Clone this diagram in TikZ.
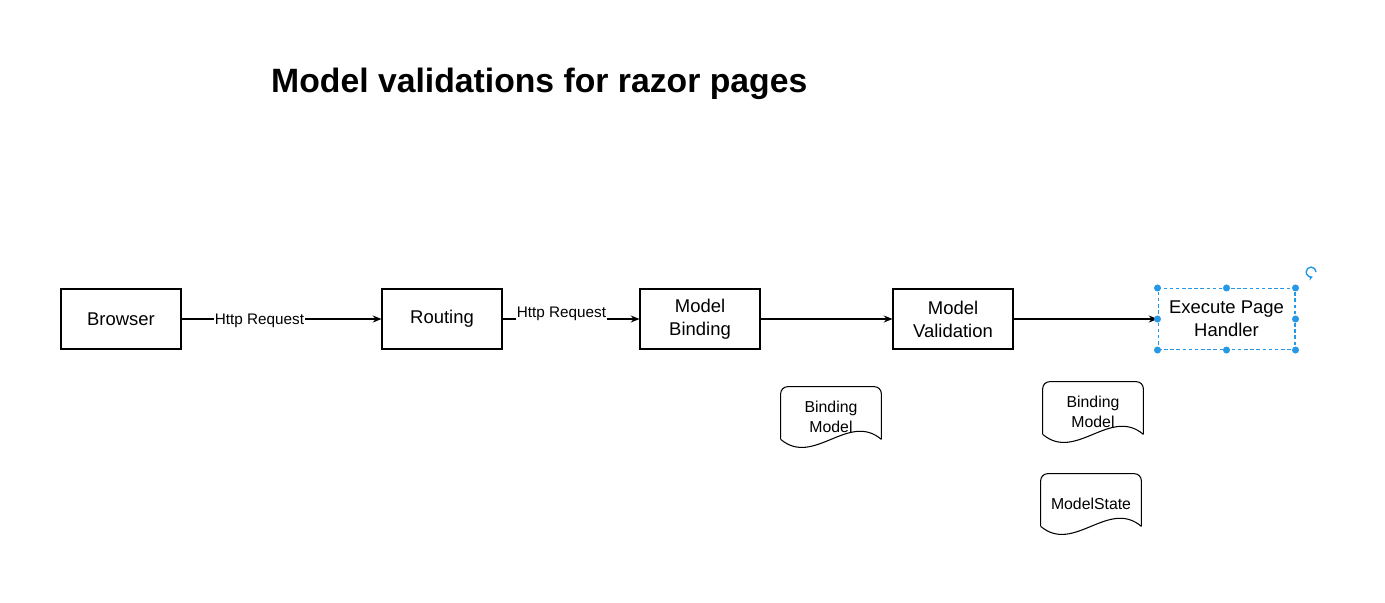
\documentclass[tikz,border=0pt]{standalone}
\usepackage{fontspec}
\setmainfont{Liberation Sans}
\usetikzlibrary{arrows.meta}
\usetikzlibrary{calc}

\definecolor{handleblue}{RGB}{38,152,232}

\tikzset{
  stage/.style={draw=black, line width=0.6pt, minimum width=2.4cm, minimum height=1.2cm, align=center, font=\fontsize{10.5}{13}\selectfont},
  flow/.style={line width=0.6pt, -{Stealth[length=5pt,width=4pt]}},
  flowlabel/.style={fill=white, inner sep=0.5pt, font=\fontsize{8.7}{10}\selectfont},
  docnode/.style={minimum width=2cm, minimum height=1.2cm, inner sep=0pt, align=center, font=\fontsize{9}{11}\selectfont},
  docline/.style={draw=black, line width=0.6pt}
}

\begin{document}
\begin{tikzpicture}[x=0.02cm, y=-0.02cm]

	\useasboundingbox (0,0) rectangle (1385,602);

	%Title
	\node[anchor=west, font=\fontsize{19.2}{23}\selectfont\bfseries] (title) at (265,84) {Model validations for razor pages};

	%Pipeline
	\node[stage] (browser) at (121,319) {Browser};
	\node[stage] (routing) at (442,319) {Routing};
	\node[stage] (binding) at (700,319) {Model\\Binding};
	\node[stage] (validation) at (953,319) {Model\\Validation};
	\node[stage, draw=handleblue, line width=0.6pt, dash pattern=on 2pt off 1.5pt, minimum width=2.74cm, minimum height=1.22cm] (handler) at (1226.5,319) {Execute Page\\Handler};

	%Connectors
	\draw[flow] (browser) -- node[flowlabel, pos=0.39, yshift=-1.2pt] {Http Request} (routing);
	\draw[flow] (routing) -- node[flowlabel, pos=0.43, yshift=2.8pt] {Http Request} (binding);
	\draw[flow] (binding) -- (validation);
	\draw[flow] (validation) -- (handler);

	%Selection handles
	\foreach \p in {north west, north, north east, west, east, south west, south, south east}
		\fill[handleblue] (handler.\p) circle (2pt);
	\draw[handleblue, line width=0.8pt, -{Stealth[length=2.5pt,width=3pt]}] (1316,272) arc[start angle=0, end angle=290, radius=2.8pt];

	%Documents
	\node[docnode] (bindingdocA) at (831,417) {Binding\\Model};
	\node[docnode] (bindingdocB) at (1093,412) {Binding\\Model};
	\node[docnode] (statedoc) at (1091,504) {ModelState};
	\foreach \d in {bindingdocA, bindingdocB, statedoc} {
		\draw[docline, rounded corners=4pt] ($(\d.south west)+(0,-8)$) |- (\d.north) -| ($(\d.south east)+(0,-8)$);
		\draw[docline] ($(\d.south west)+(0,-8)$) .. controls +(33,28) and +(-33,-28) .. ($(\d.south east)+(0,-8)$);
	}

\end{tikzpicture}
\end{document}
